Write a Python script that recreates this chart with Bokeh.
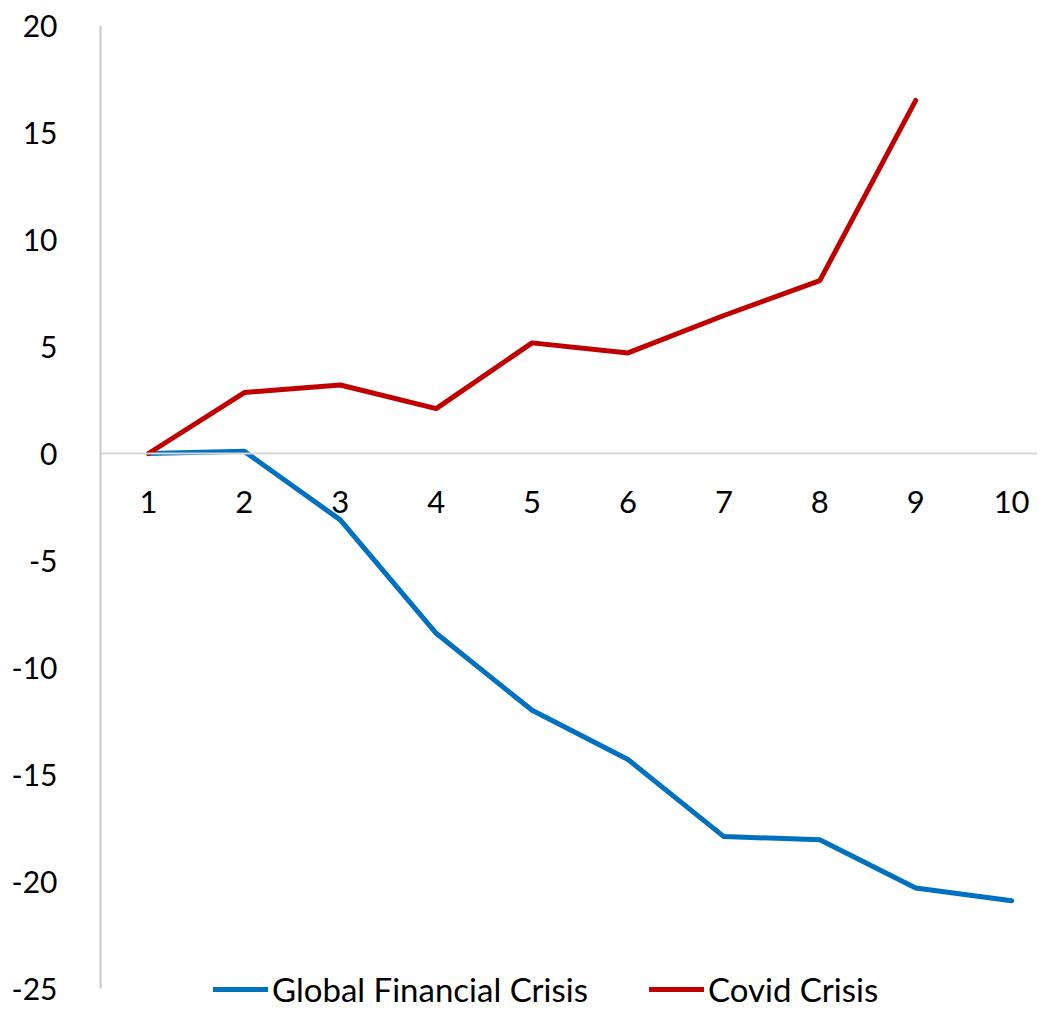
from bokeh.plotting import figure
from bokeh.models import FixedTicker, Span, ColumnDataSource, Legend, LegendItem
from bokeh.core.properties import value
from bokeh.embed import file_html
from bokeh.resources import INLINE

periods = [1, 2, 3, 4, 5, 6, 7, 8, 9, 10]
period_labels = ["1", "2", "3", "4", "5", "6", "7", "8", "9", "10"]
gfc = [0.0, 0.1, -3.1, -8.4, -12.0, -14.3, -17.9, -18.05, -20.3, -20.9]
covid = [0.0, 2.85, 3.2, 2.1, 5.17, 4.7, 6.45, 8.08, 16.5, float("nan")]
y_ticks = [-25, -20, -15, -10, -5, 0, 5, 10, 15, 20]

FONT = "Lato"

p = figure(width=1037, height=1009, output_backend="svg", toolbar_location=None,
           x_range=(0.5, 10.27), y_range=(-25.98, 20), x_axis_location=None,
           min_border_left=100, min_border_right=0, min_border_top=25, min_border_bottom=0)
p.outline_line_color = None
p.xgrid.visible = False
p.ygrid.visible = False
p.background_fill_color = "white"
p.border_fill_color = "white"

ax = p.yaxis[0]
ax.ticker = FixedTicker(ticks=y_ticks)
ax.bounds = (-25, 20)
ax.major_label_overrides = {t: str(t) for t in y_ticks}
ax.major_tick_line_color = None
ax.minor_tick_line_color = None
ax.axis_line_color = "#c8c8c8"
ax.axis_line_width = 2
ax.major_label_text_font = FONT
ax.major_label_text_font_size = "30px"
ax.major_label_text_color = "black"
ax.major_label_standoff = 37

p.add_layout(Span(location=0, dimension="width", line_color="#d6d6d6", line_width=2))

src = ColumnDataSource(dict(x=periods, y=[0] * len(periods), t=period_labels))
p.text(x="x", y="y", text="t", source=src, text_align="center", text_baseline="top",
       y_offset=37, text_font=value(FONT), text_font_size="31px", text_color="black")

r1 = p.line(periods, gfc, line_color="#0070C0", line_width=5, line_cap="round", line_join="round")
r2 = p.line(periods, covid, line_color="#C00000", line_width=5, line_cap="round", line_join="round")

legend = Legend(items=[LegendItem(label="Global Financial Crisis", renderers=[r1]),
                       LegendItem(label="Covid Crisis", renderers=[r2])],
                orientation="horizontal", location=(113, 0),
                glyph_width=55, glyph_height=32, label_standoff=4, spacing=61,
                padding=0, margin=0, border_line_color=None, background_fill_alpha=0,
                label_text_font=FONT, label_text_font_size="33px", label_text_color="black")
p.add_layout(legend, "center")

open("out.html", "w").write(file_html(p, INLINE))
